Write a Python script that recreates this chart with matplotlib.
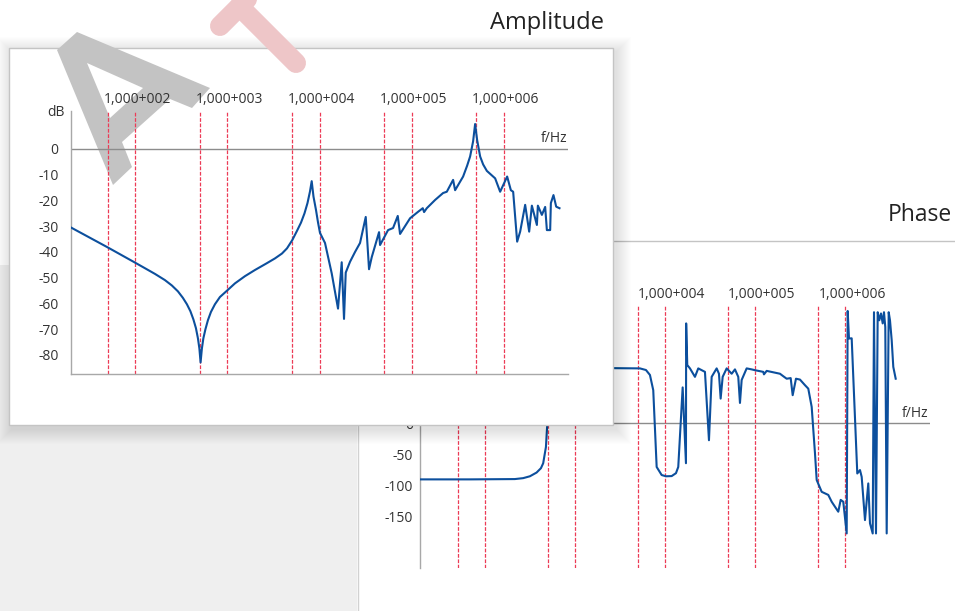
import matplotlib
matplotlib.use("Agg")
import matplotlib.pyplot as plt
import matplotlib.transforms as mtransforms
from matplotlib.patches import Rectangle, PathPatch
from matplotlib.path import Path
from matplotlib.lines import Line2D
import numpy as np

W, H = 955, 611
plt.rcParams['font.family'] = ['Open Sans', 'DejaVu Sans']

# ---------------- data ----------------
amp_freq = [20, 50, 100, 127, 163, 209, 249, 290, 328, 363, 396, 427, 455, 478,
            496, 511, 528, 548, 577, 614, 662, 732, 829, 1005, 1207, 1550, 1991,
            2668, 3283, 3912, 4434, 5062, 5694, 6295, 6870, 7406, 7882, 8228,
            8605, 9162, 9632, 10125, 11475, 13570, 15893, 17427, 18460, 19270,
            21461, 24316, 27560, 31785, 34514, 36935, 44337, 45463, 55548,
            62946, 70795, 74990, 96318, 118560, 132340, 136740, 146330, 180050,
            219930, 241330, 282550, 297080, 362910, 401100, 432410, 466100,
            489980, 515200, 555480, 598800, 656920, 808350, 916220, 1091700,
            1197600, 1268600, 1402000, 1511200, 1712800, 1893600, 2025800,
            2295800, 2353600, 2601800, 2825000, 2948000, 3201000, 3258000,
            3477000, 3722000, 4042000]
amp_db = [-30.5, -38.2, -44.2, -46.3, -48.5, -50.9, -53.0, -55.3, -57.8, -60.3,
          -63.0, -66.2, -69.6, -73.5, -77.5, -82.9, -77.5, -73.5, -70.0, -66.5,
          -63.3, -60.3, -57.5, -54.8, -52.2, -49.4, -47.0, -44.4, -42.5, -40.6,
          -38.6, -35.4, -31.8, -28.6, -25.0, -21.0, -16.5, -12.5, -18.5, -23.7,
          -28.5, -32.6, -36.5, -48.3, -62.0, -44.0, -66.0, -48.0, -43.8, -40.0,
          -36.5, -26.4, -46.7, -42.0, -32.3, -37.3, -31.5, -30.7, -26.0, -33.0,
          -26.9, -24.3, -23.0, -24.5, -23.0, -19.8, -17.1, -16.6, -12.0, -16.0,
          -10.7, -6.5, -2.9, 3.0, 9.7, 3.5, -2.9, -6.0, -8.5, -11.4, -16.6,
          -10.7, -16.0, -16.6, -36.0, -32.1, -21.7, -32.1, -22.0, -29.5, -22.0,
          -25.6, -22.5, -31.5, -31.5, -21.0, -17.9, -22.4, -23.0]

phase_freq = [19, 68, 215, 266, 316, 375, 419, 444, 476, 492, 508, 528, 600,
              774, 1137, 2644, 5275, 6150, 6813, 7413, 8088, 9191, 10259, 11870,
              13257, 14054, 15730, 17113, 17200, 17696, 18957, 21544, 23442,
              27826, 30828, 33030, 37530, 39811, 41563, 43772, 48489, 55103,
              59948, 65228, 68129, 71155, 80853, 91892, 100000, 123650, 125890,
              134900, 189570, 206240, 225000, 249300, 262400, 285500, 316200,
              359400, 391100, 426600, 464200, 484900, 551000, 652300, 711600,
              842300, 896000, 957400, 1044500, 1071500, 1107600, 1187000,
              1369800, 1467800, 1533000, 1668100, 1815000, 1895700, 2032000,
              2100500, 2210600, 2309000, 2405000, 2511900, 2624000, 2712000,
              2804000, 2906000, 3059000, 3162300, 3303000, 3441000, 3659000]
phase_deg = [-90, -90, -89.5, -88, -85, -79, -72, -64, -38, -3, 40, 70, 84,
             88, 89, 89, 88.6, 86, 78, 53.5, -70, -83, -85, -84.7, -80, -70,
             58, -64, 161, 94, 88.6, 75, 88.6, 83, -27, 75, 88.6, 80, 40, 75,
             88.6, 80, 87, 75, 33, 70, 88.6, 87, 85.7, 83, 79, 84.6, 80, 76,
             72, 73, 45.5, 72, 70.6, 61.6, 56, 26.7, -48, -91, -110, -115,
             -126, -142, -123, -126, -177, 181, 136.7, 137, -80.5, -75, -86,
             -155.5, -96.5, -160.8, -177, 179, -177, 179, 166, 177, 161, 179,
             155, -177, 179, 166, 134, 91, 72]

marker_freq = [50, 100, 500, 1000, 5000, 10000, 50000, 100000, 500000, 1000000]
decade_freq = [1e2, 1e3, 1e4, 1e5, 1e6]
decade_labels = ['1,000+002', '1,000+003', '1,000+004', '1,000+005', '1,000+006']
amp_yticks = [0, -10, -20, -30, -40, -50, -60, -70, -80]
phase_yticks = [150, 100, 50, 0, -50, -100, -150]

# ---------------- styling ----------------
BLUE = '#0c4f9d'
RED = '#ec3b56'
TXT = '#333333'
AXC = '#a8a8a8'
ZEROC = '#8c8c8c'

fig = plt.figure(figsize=(W / 100, H / 100), dpi=100)
fig.patch.set_facecolor('white')
PX = mtransforms.Affine2D().scale(1 / W, -1 / H).translate(0, 1) + fig.transFigure


def rect(x0, y0, x1, y1, **kw):
    r = Rectangle((x0, y0), x1 - x0, y1 - y0, transform=PX, **kw)
    fig.add_artist(r)
    return r


def line(xs, ys, **kw):
    l = Line2D(xs, ys, transform=PX, **kw)
    fig.add_artist(l)
    return l


def axes_px(l, t, r, b, z):
    ax = fig.add_axes([l / W, 1 - b / H, (r - l) / W, (b - t) / H], zorder=z)
    ax.patch.set_alpha(0)
    return ax


# page background pieces
rect(0, 265, 357, 611, facecolor='#efefef', edgecolor='none', zorder=-30)
line([357.5, 357.5], [240, 611], color='#d2d2d2', lw=1, zorder=-29)
line([357, 955], [240.5, 240.5], color='#c4c4c4', lw=1, zorder=-29)

# titles
fig.text(490, 29, 'Amplitude', transform=PX, fontsize=17, color='#222222',
         ha='left', va='baseline')
fig.text(888, 221, 'Phase', transform=PX, fontsize=16.5, color='#222222',
         ha='left', va='baseline', zorder=-25)


def setup(ax, yticks, pad, bottom_spine):
    ax.set_xscale('log')
    for s in ['top', 'right']:
        ax.spines[s].set_visible(False)
    ax.spines['left'].set_color(AXC)
    ax.spines['left'].set_linewidth(1)
    if bottom_spine:
        ax.spines['bottom'].set_color(AXC)
        ax.spines['bottom'].set_linewidth(1)
    else:
        ax.spines['bottom'].set_visible(False)
    ax.set_xticks([])
    ax.xaxis.set_minor_locator(matplotlib.ticker.NullLocator())
    ax.set_yticks(yticks)
    ax.set_yticklabels([str(v) for v in yticks])
    ax.tick_params(axis='y', length=0, pad=pad, labelsize=10, labelcolor=TXT)
    ax.axhline(0, color=ZEROC, lw=1, zorder=1)
    for f in marker_freq:
        ax.axvline(f, color=RED, lw=0.9, ls=(0, (3, 1.3)), zorder=2)


def decade_text(ax, dx):
    trans = mtransforms.blended_transform_factory(ax.transData, ax.transAxes)
    trans = mtransforms.offset_copy(trans, fig=fig, x=dx, y=11.5, units='dots')
    for f, lab in zip(decade_freq, decade_labels):
        ax.text(f, 1, lab, transform=trans, ha='center', va='center',
                fontsize=10, color=TXT, clip_on=False)


def unit_text(ax, dx):
    trans = mtransforms.blended_transform_factory(ax.transAxes, ax.transData)
    trans = mtransforms.offset_copy(trans, fig=fig, x=dx, y=10, units='dots')
    ax.text(1, 0, 'f/Hz', transform=trans, ha='right', va='center',
            fontsize=10, color=TXT)


# ---------------- phase chart (background) ----------------
axp = axes_px(420, 306, 930, 568, -20)
setup(axp, phase_yticks, 5, False)
axp.set_xlim(19, 8.8e6)
axp.set_ylim(-232.6, 189)
axp.plot(phase_freq, phase_deg, color=BLUE, lw=1.5, zorder=3,
         solid_joinstyle='round')
decade_text(axp, 7)
unit_text(axp, -2)

# ---------------- amplitude card ----------------
for i in range(1, 16):
    rect(9 - i + 3, 48 - i + 4, 613 + i + 3, 425 + i + 4, facecolor='black',
         alpha=0.0085, edgecolor='none', zorder=-12)
rect(9, 48, 613, 425, facecolor='white', edgecolor='#c4c4c4', lw=1, zorder=-10)

# watermark letters
outer = [(57, 50), (77, 32), (210, 88), (192, 108), (170, 99), (122, 142),
         (132, 167), (113, 185)]
inner = [(87, 63), (143, 88), (110, 118)]


def area(p):
    p = np.array(p, float)
    return 0.5 * np.sum(p[:, 0] * np.roll(p[:, 1], -1) - np.roll(p[:, 0], -1) * p[:, 1])


if np.sign(area(outer)) == np.sign(area(inner)):
    inner = inner[::-1]
verts = outer + [outer[0]] + inner + [inner[0]]
codes = ([Path.MOVETO] + [Path.LINETO] * (len(outer) - 1) + [Path.CLOSEPOLY] +
         [Path.MOVETO] + [Path.LINETO] * (len(inner) - 1) + [Path.CLOSEPOLY])
fig.add_artist(PathPatch(Path(verts, codes), transform=PX, facecolor='#c3c3c3',
                         edgecolor='none', zorder=-8))
line([220, 259], [26, -13], color='#eec6c8', lw=14.4, solid_capstyle='round',
     zorder=-8)
line([239.5, 296], [6.5, 63], color='#eec6c8', lw=14.4, solid_capstyle='round',
     zorder=-8)

# ---------------- amplitude chart ----------------
axa = axes_px(71, 111, 568, 374, 0)
setup(axa, amp_yticks, 9, True)
axa.set_xlim(20, 5e6)
axa.set_ylim(-87.4, 14.76)
axa.plot(amp_freq, amp_db, color=BLUE, lw=1.5, zorder=3, solid_joinstyle='round')
decade_text(axa, 2)
unit_text(axa, -1)
axa.text(0, 1, 'dB', transform=mtransforms.offset_copy(
    axa.transAxes, fig=fig, x=-15.5, y=-1.5, units='dots'),
    ha='center', va='center', fontsize=10, color=TXT)

fig.savefig('out.png', dpi=100, facecolor='white')
